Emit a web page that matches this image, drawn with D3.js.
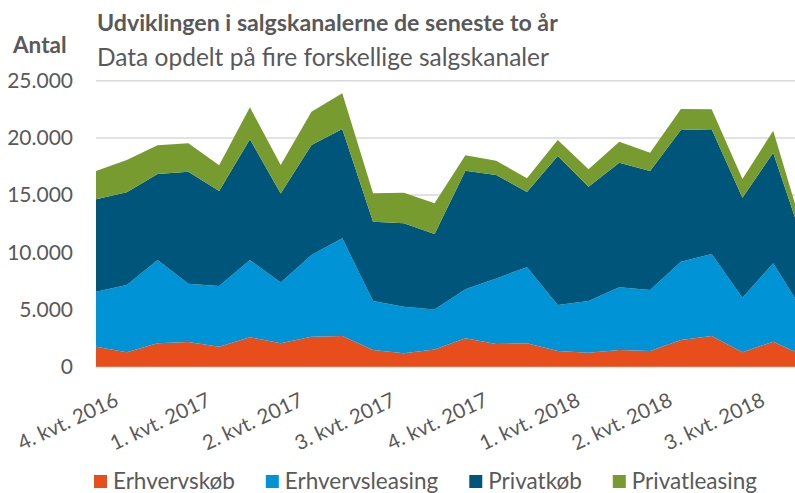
<!DOCTYPE html>
<html>
<head>
<meta charset="utf-8">
<script src="https://cdn.jsdelivr.net/npm/d3@7"></script>
<style>
  body { margin: 0; background: #fff; }
  svg { display: block; font-family: Lato, "Open Sans", sans-serif; }
</style>
</head>
<body>
<svg id="chart" width="795" height="493"></svg>
<script>
// months Oct 2016 - Sep 2018
const months = [
    "okt 2016", "nov 2016", "dec 2016", "jan 2017", "feb 2017", "mar 2017",
    "apr 2017", "maj 2017", "jun 2017", "jul 2017", "aug 2017", "sep 2017",
    "okt 2017", "nov 2017", "dec 2017", "jan 2018", "feb 2018", "mar 2018",
    "apr 2018", "maj 2018", "jun 2018", "jul 2018", "aug 2018", "sep 2018"
];

// quarter labels sit on the middle month of each quarter
const tickMonths = ["nov 2016", "feb 2017", "maj 2017", "aug 2017", "nov 2017", "feb 2018", "maj 2018", "aug 2018"];
const tickLabels = ["4. kvt. 2016", "1. kvt. 2017", "2. kvt. 2017", "3. kvt. 2017", "4. kvt. 2017", "1. kvt. 2018", "2. kvt. 2018", "3. kvt. 2018"];

const yTicks = [0, 5000, 10000, 15000, 20000, 25000];

const seriesNames = ["Erhvervskøb", "Erhvervsleasing", "Privatkøb", "Privatleasing"];
const seriesColors = ["#e84e1b", "#0093d6", "#00567a", "#779b2f"];

const erhvervskob = [1750, 1260, 2040, 2160, 1750, 2570, 2040, 2620, 2680, 1460, 1170, 1500,
                     2480, 1980, 2040, 1370, 1220, 1460, 1370, 2330, 2680, 1260, 2190, 930];
const erhvervsleasing = [4810, 5880, 7290, 5100, 5300, 6760, 5310, 7140, 8540, 4280, 4070, 3500,
                         4280, 5740, 6650, 4020, 4520, 5480, 5330, 6850, 7170, 4770, 6850, 3800];
const privatkob = [8070, 8100, 7510, 9790, 8310, 10550, 7800, 9620, 9560, 6930, 7290, 6600,
                   10370, 9040, 6580, 13030, 9990, 10890, 10400, 11510, 10900, 8740, 9670, 5970];
const privatleasing = [2470, 2830, 2510, 2480, 2240, 2790, 2480, 2910, 3120, 2490, 2680, 2680,
                       1350, 1250, 1200, 1400, 1530, 1840, 1610, 1840, 1750, 1640, 1920, 900];

const textColor = "#595959";
const gridColor = "#d9d9d9";

// build the table for d3.stack
const table = months.map((m, i) => ({
    month: m,
    "Erhvervskøb": erhvervskob[i],
    "Erhvervsleasing": erhvervsleasing[i],
    "Privatkøb": privatkob[i],
    "Privatleasing": privatleasing[i]
}));

const width = 795;
const plotLeft = 96;
const plotRight = 804; // last month runs past the picture edge
const plotTop = 80.7;
const plotBottom = 366.7;

const svg = d3.select("#chart");

const x = d3.scalePoint().domain(months).range([plotLeft, plotRight]);
const y = d3.scaleLinear().domain([0, 25000]).range([plotBottom, plotTop]);

const da = d3.formatLocale({ decimal: ",", thousands: ".", grouping: [3], currency: ["", " kr."] });
const fmt = da.format(",d");

svg.append("clipPath").attr("id", "clip")
    .append("rect").attr("x", 0).attr("y", 0).attr("width", width).attr("height", 493);

// gridlines
svg.append("g")
    .selectAll("line")
    .data(yTicks)
    .join("line")
    .attr("x1", plotLeft)
    .attr("x2", width)
    .attr("y1", d => y(d))
    .attr("y2", d => y(d))
    .attr("stroke", gridColor)
    .attr("stroke-width", 1.5);

// stacked areas
const stack = d3.stack().keys(seriesNames);
const layers = stack(table);

const area = d3.area()
    .x(d => x(d.data.month))
    .y0(d => y(d[0]))
    .y1(d => y(d[1]));

svg.append("g")
    .attr("clip-path", "url(#clip)")
    .selectAll("path")
    .data(layers)
    .join("path")
    .attr("d", area)
    .attr("fill", (d, i) => seriesColors[i]);

// y axis labels
const yAxis = d3.axisLeft(y).tickValues(yTicks).tickFormat(fmt).tickSize(0).tickPadding(23);
const yAxisG = svg.append("g")
    .attr("transform", `translate(${plotLeft},0)`)
    .call(yAxis);
yAxisG.select(".domain").remove();
yAxisG.selectAll("text")
    .attr("fill", textColor)
    .style("font-size", "21px")
    .style("font-family", "Lato, sans-serif");

// x axis labels (rotated)
svg.append("g")
    .selectAll("text")
    .data(tickMonths)
    .join("text")
    .attr("transform", d => `translate(${x(d) - 7},405) rotate(-25)`)
    .attr("text-anchor", "end")
    .attr("fill", textColor)
    .style("font-size", "20.5px")
    .text((d, i) => tickLabels[i]);

// titles
svg.append("text")
    .attr("x", 97)
    .attr("y", 31)
    .attr("fill", textColor)
    .style("font-weight", "bold")
    .style("font-size", "23.2px")
    .text("Udviklingen i salgskanalerne de seneste to år");

svg.append("text")
    .attr("x", 97)
    .attr("y", 66)
    .attr("fill", textColor)
    .style("font-size", "24.5px")
    .text("Data opdelt på fire forskellige salgskanaler");

svg.append("text")
    .attr("x", 13)
    .attr("y", 53)
    .attr("fill", textColor)
    .style("font-weight", "bold")
    .style("font-size", "22.5px")
    .text("Antal");

// legend
const legend = svg.append("g");
let lx = 94;
seriesNames.forEach((name, i) => {
    legend.append("rect")
        .attr("x", lx)
        .attr("y", 475)
        .attr("width", 13)
        .attr("height", 13)
        .attr("fill", seriesColors[i]);
    const t = legend.append("text")
        .attr("x", lx + 19)
        .attr("y", 489)
        .attr("fill", textColor)
        .style("font-size", "22.5px")
        .text(name);
    lx += 19 + t.node().getComputedTextLength() + 31;
});
</script>
</body>
</html>
